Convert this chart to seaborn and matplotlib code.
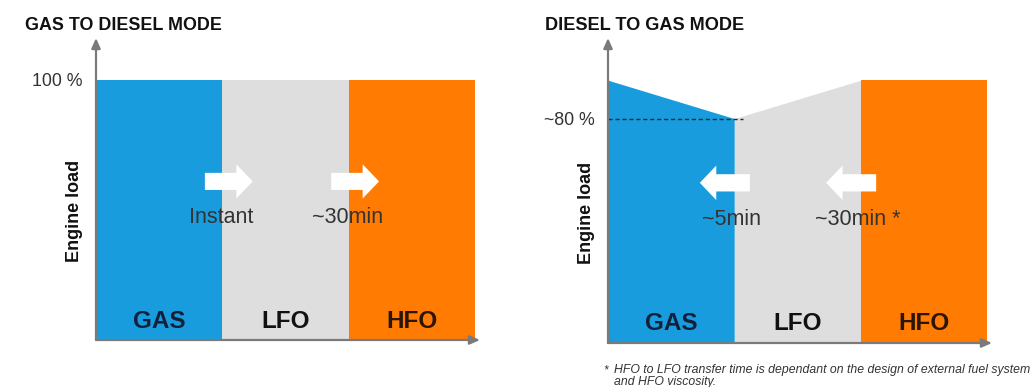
import matplotlib
matplotlib.use("Agg")
import matplotlib.pyplot as plt
from matplotlib.patches import FancyArrow
import seaborn as sns

# Fuel modes along the switch-over sequence
modes = ["GAS", "LFO", "HFO"]

# Engine load (%) at the start and end of each mode band
gas_to_diesel_start = [100, 100, 100]
gas_to_diesel_end = [100, 100, 100]
diesel_to_gas_start = [100, 80, 100]
diesel_to_gas_end = [80, 100, 100]

# Transfer times between neighbouring modes
gas_to_diesel_times = ["Instant", "~30min"]
diesel_to_gas_times = ["~5min", "~30min *"]

# Load levels marked on the y axis
gas_to_diesel_ticks = [100]
gas_to_diesel_tick_labels = ["100 %"]
diesel_to_gas_ticks = [80]
diesel_to_gas_tick_labels = ["~80 %"]

titles = ["GAS TO DIESEL MODE", "DIESEL TO GAS MODE"]
footnote = ("HFO to LFO transfer time is dependant on the design of external fuel system\n"
            "and HFO viscosity.")

sns.set_theme(style="white")
plt.rcParams["font.family"] = ["Liberation Sans", "DejaVu Sans"]

palette = sns.color_palette(["#189cde", "#dedede", "#ff7b02"])
label_colors = ["#14203a", "#111111", "#2a1506"]
axis_color = "#7a7a7a"
text_color = "#333333"

W, H = 1035, 387
fig = plt.figure(figsize=(W / 100, H / 100), dpi=100)
fig.patch.set_facecolor("white")

Y_LO, Y_HI = -37, 122
X_HI = 3.04


def px_axes(x0, x1, ytop, ybot):
    return fig.add_axes([x0 / W, 1 - ybot / H, (x1 - x0) / W, (ybot - ytop) / H])


def draw_panel(ax, starts, ends, times, direction, ticks, tick_labels, label_y):
    for i, (s, e) in enumerate(zip(starts, ends)):
        ax.fill_between([i, i + 1], [Y_LO, Y_LO], [s, e], color=palette[i],
                        lw=0, zorder=1)
        ax.text(i + 0.5, -27, modes[i], ha="center", va="center",
                fontsize=17.5, fontweight="bold", color=label_colors[i], zorder=4)

    # Transfer arrows and times at each mode boundary
    for b, t in enumerate(times, start=1):
        if direction > 0:
            tail, tip = b - 0.138, b + 0.241
        else:
            tail, tip = b + 0.123, b - 0.273
        ax.add_patch(FancyArrow(tail, 46.5, tip - tail, 0, width=9,
                                head_width=18, head_length=0.13,
                                length_includes_head=True, color="white",
                                lw=0, zorder=3))
        ax.text(b - 0.01 if direction > 0 else b - 0.02, 27.5, t, ha="center",
                va="center", fontsize=15.5, color=text_color, zorder=4)

    ax.set_xlim(0, X_HI)
    ax.set_ylim(Y_LO, Y_HI)
    ax.set_xticks([])
    ax.set_yticks(ticks)
    ax.set_yticklabels(tick_labels, fontsize=12.8, color=text_color)
    ax.tick_params(axis="y", length=0, pad=9.5)
    ax.set_ylabel("Engine load", fontsize=13, fontweight="bold", color="#111111")
    ax.yaxis.set_label_coords(-0.035, label_y)
    ax.set_facecolor("none")
    sns.despine(ax=ax, left=True, bottom=True)

    # Axis lines with arrow heads
    for xy in [(0, 1), (1, 0)]:
        ax.annotate("", xy=xy, xytext=(0, 0), xycoords="axes fraction",
                    textcoords="axes fraction",
                    arrowprops=dict(arrowstyle="-|>,head_length=0.5,head_width=0.22",
                                    color=axis_color, lw=1.6, shrinkA=0, shrinkB=0),
                    zorder=5, annotation_clip=False)


ax1 = px_axes(96, 480, 38, 340)
draw_panel(ax1, gas_to_diesel_start, gas_to_diesel_end, gas_to_diesel_times, 1,
           gas_to_diesel_ticks, gas_to_diesel_tick_labels, 0.427)

ax2 = px_axes(608, 992, 38, 343)
draw_panel(ax2, diesel_to_gas_start, diesel_to_gas_end, diesel_to_gas_times, -1,
           diesel_to_gas_ticks, diesel_to_gas_tick_labels, 0.426)
ax2.plot([0, 1.07], [diesel_to_gas_ticks[0]] * 2, color="#2a2a2a", lw=1,
         ls=(0, (3, 2)), zorder=2)

fig.text(25 / W, 1 - 25 / H, titles[0], ha="left", va="center", fontsize=12.9,
         fontweight="bold", color="#111111")
fig.text(545 / W, 1 - 25 / H, titles[1], ha="left", va="center", fontsize=13.1,
         fontweight="bold", color="#111111")

fig.text(603 / W, 1 - 370 / H, "*", ha="left", va="center", fontsize=8.5,
         style="italic", color=text_color)
fig.text(614 / W, 1 - 376.5 / H, footnote, ha="left", va="center", fontsize=8.8,
         style="italic", color=text_color, linespacing=1.0)

fig.savefig("out.png", dpi=100, facecolor="white")
